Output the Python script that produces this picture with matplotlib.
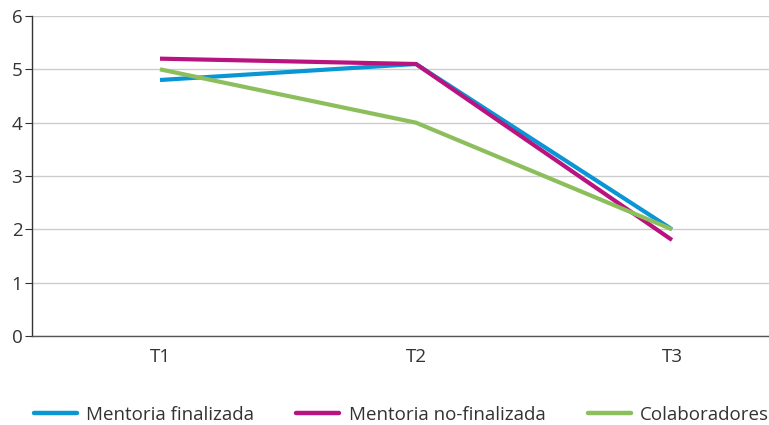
import matplotlib
matplotlib.use("Agg")
import matplotlib.pyplot as plt
from matplotlib.lines import Line2D

categories = ["T1", "T2", "T3"]
mentoria_finalizada = [4.8, 5.1, 2.0]
mentoria_no_finalizada = [5.2, 5.1, 1.8]
colaboradores = [5.0, 4.0, 2.0]
series_names = ["Mentoria finalizada", "Mentoria no-finalizada", "Colaboradores"]
colors = ["#0A96D4", "#B8137F", "#8DBE5C"]

plt.rcParams['font.family'] = ['Open Sans', 'DejaVu Sans']

fig = plt.figure(figsize=(7.69, 4.25), dpi=100)
W, H = 769, 425
ax = fig.add_axes([32 / W, 1 - 336 / H, (W - 32) / W, (336 - 16) / H])

x = list(range(len(categories)))
for vals, c, n in zip([mentoria_finalizada, mentoria_no_finalizada, colaboradores], colors, series_names):
    ax.plot(x, vals, color=c, lw=3.0, solid_capstyle='butt', label=n)

ax.set_ylim(0, 6)
ax.set_xlim(-0.5, -0.5 + (W - 32) / 256)
ax.set_yticks(range(0, 7))
ax.set_xticks(x)
ax.set_xticklabels(categories)
ax.yaxis.grid(True, color="#cccccc", lw=1)
ax.set_axisbelow(True)
for s in ["top", "right"]:
    ax.spines[s].set_visible(False)
ax.spines["left"].set_color("#333333")
ax.spines["bottom"].set_color("#555555")
ax.spines["left"].set_linewidth(1)
ax.spines["bottom"].set_linewidth(1)
ax.tick_params(axis='y', length=5, color="#333333", labelsize=13.5, labelcolor="#333333", pad=2)
ax.tick_params(axis='x', length=0, labelsize=13.5, labelcolor="#333333", pad=9)

handles = [Line2D([0], [0], color=c, lw=3.2, solid_capstyle='round') for c in colors]
fig.legend(handles, series_names, loc='center', bbox_to_anchor=(0.5 + 17 / W, 1 - 415 / H), ncol=3,
           frameon=False, fontsize=13.5, handlelength=2.3, columnspacing=2.25, handletextpad=0.5,
           labelcolor="#333333", borderaxespad=0, borderpad=0)

fig.savefig("out.png", dpi=100)
